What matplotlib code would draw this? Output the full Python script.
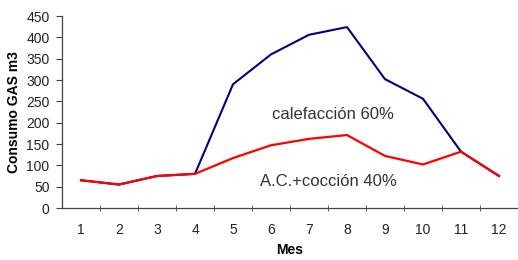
import numpy as np
import matplotlib
matplotlib.use('Agg')
from matplotlib import pyplot as plt

# data
meses = [1, 2, 3, 4, 5, 6, 7, 8, 9, 10, 11, 12]
total = [65, 55, 75, 80, 290, 360, 406, 424, 302, 256, 132, 75]   # calefaccion + resto
resto = [65, 55, 75, 80, 117, 147, 162, 171, 122, 102, 132, 75]   # A.C. + coccion

plt.rcParams['font.family'] = ['Liberation Sans', 'DejaVu Sans']

fig = plt.figure(figsize=(5.18, 2.60), dpi=100)
ax = fig.add_axes([62/518, 0.2, 1 - 62/518, 192/260])

ax.plot(meses, total, color='#000080', lw=1.5)
ax.plot(meses, resto, color='#FF0000', lw=1.6)

ax.set_xlim(0.5, 12.5)
ax.set_ylim(0, 450)
ax.set_yticks(np.arange(0, 451, 50))
ax.set_xticks(meses)
ax.set_xticks(np.arange(1.5, 12, 1), minor=True)
ax.tick_params(axis='x', which='major', length=0, pad=11, labelsize=10, colors='#222222')
ax.tick_params(axis='x', which='minor', length=5, direction='inout', color='#444444')
ax.tick_params(axis='y', length=4, direction='out', labelsize=10, pad=5)
ax.tick_params(axis='y', colors='#444444', labelcolor='#222222')

for s in ['top', 'right']:
    ax.spines[s].set_visible(False)
for s in ['left', 'bottom']:
    ax.spines[s].set_color('#444444')
    ax.spines[s].set_linewidth(0.9)

ax.set_xlabel('Mes', fontweight='bold', fontsize=10, labelpad=4)
ax.set_ylabel('Consumo GAS m3', fontweight='bold', fontsize=10, labelpad=4)

ax.text(7.63, 219, 'calefacción 60%', fontsize=12, color='#333333', ha='center', va='center')
ax.text(7.5, 61, 'A.C.+cocción 40%', fontsize=12, color='#333333', ha='center', va='center')

plt.savefig('out.png', dpi=100)
